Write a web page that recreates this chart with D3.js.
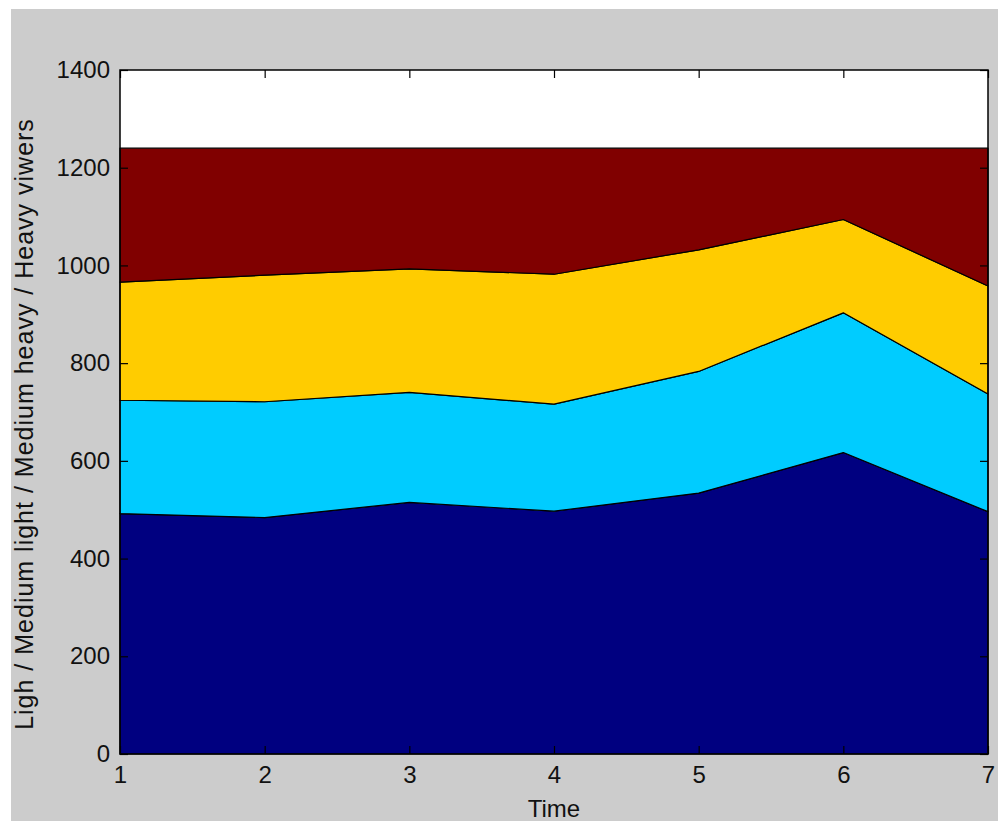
<!DOCTYPE html>
<html><head><meta charset="utf-8">
<script src="https://cdn.jsdelivr.net/npm/d3@7"></script>
<style>html,body{margin:0;padding:0;background:#fff;}svg{display:block;}</style>
</head><body>
<svg id="c" width="998" height="821"></svg>
<script>
const times = [1, 2, 3, 4, 5, 6, 7];
const light = [492, 484, 515, 497, 534, 617, 496];
const mediumLight = [232, 237, 225, 219, 249, 286, 241];
const mediumHeavy = [242, 259, 253, 266, 249, 191, 221];
const heavy = [274, 260, 247, 258, 208, 146, 282];
const seriesNames = ["light", "mediumLight", "mediumHeavy", "heavy"];
const seriesColors = ["#000080", "#00ccff", "#ffcc00", "#800000"];
const yTicks = [0, 200, 400, 600, 800, 1000, 1200, 1400];

const svg = d3.select("#c");
svg.append("rect").attr("x", 11).attr("y", 9).attr("width", 987).attr("height", 812).attr("fill", "#cccccc");

const m = {l: 120, r: 988, t: 70, b: 754};
const x = d3.scaleLinear().domain([1, 7]).range([m.l, m.r]);
const y = d3.scaleLinear().domain([0, 1400]).range([m.b, m.t]);

svg.append("rect").attr("x", m.l).attr("y", m.t).attr("width", m.r - m.l).attr("height", m.b - m.t).attr("fill", "#fff");

const rows = times.map((t, i) => ({t, light: light[i], mediumLight: mediumLight[i], mediumHeavy: mediumHeavy[i], heavy: heavy[i]}));
const stack = d3.stack().keys(seriesNames)(rows);
const area = d3.area().x(d => x(d.data.t)).y0(d => y(d[0])).y1(d => y(d[1]));
svg.append("g").selectAll("path").data(stack).join("path")
  .attr("d", area).attr("fill", (d, i) => seriesColors[i])
  .attr("stroke", "#000").attr("stroke-width", 1.2).attr("stroke-linejoin", "round");

// frame
svg.append("rect").attr("x", m.l).attr("y", m.t).attr("width", m.r - m.l).attr("height", m.b - m.t)
  .attr("fill", "none").attr("stroke", "#000").attr("stroke-width", 1.5);

const font = "Liberation Sans, Arial, sans-serif";
// y axis
const yAx = svg.append("g").attr("transform", `translate(${m.l},0)`)
  .call(d3.axisLeft(y).tickValues(yTicks).tickFormat(d3.format("d")).tickSizeInner(-8).tickSizeOuter(0).tickPadding(10));
yAx.select(".domain").remove();
yAx.selectAll("text").attr("font-family", font).attr("font-size", 24).attr("fill", "#111");
const yAxR = svg.append("g").attr("transform", `translate(${m.r},0)`)
  .call(d3.axisRight(y).tickValues(yTicks).tickSizeInner(-8).tickSizeOuter(0).tickFormat(""));
yAxR.select(".domain").remove();

// x axis
const xAx = svg.append("g").attr("transform", `translate(0,${m.b})`)
  .call(d3.axisBottom(x).tickValues(times).tickFormat(d3.format("d")).tickSizeInner(-8).tickSizeOuter(0).tickPadding(12));
xAx.select(".domain").remove();
xAx.selectAll("text").attr("font-family", font).attr("font-size", 24).attr("fill", "#111");
const xAxT = svg.append("g").attr("transform", `translate(0,${m.t})`)
  .call(d3.axisTop(x).tickValues(times).tickSizeInner(-8).tickSizeOuter(0).tickFormat(""));
xAxT.select(".domain").remove();
svg.selectAll(".tick line").attr("stroke", "#000").attr("stroke-width", 1.2);

svg.append("text").attr("x", (m.l + m.r) / 2).attr("y", 817).attr("text-anchor", "middle")
  .attr("font-family", font).attr("font-size", 24).attr("fill", "#111").text("Time");
svg.append("text").attr("transform", `translate(33,424) rotate(-90)`).attr("text-anchor", "middle")
  .attr("font-family", font).attr("font-size", 25).attr("letter-spacing", 1).attr("fill", "#111")
  .text("Ligh / Medium light / Medium heavy / Heavy viwers");
</script>
</body></html>
